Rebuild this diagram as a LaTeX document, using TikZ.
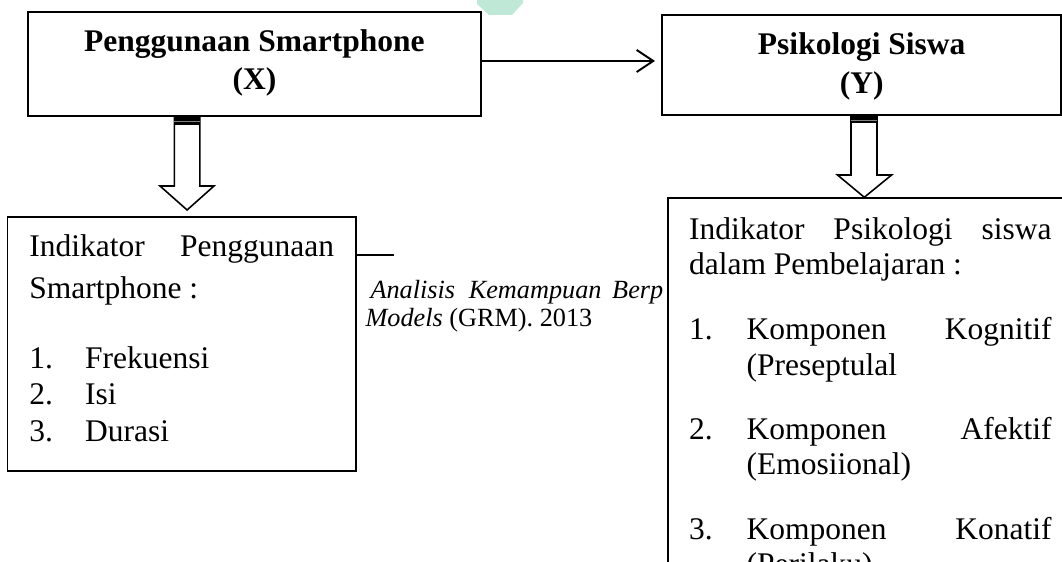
\documentclass[tikz,border=0pt]{standalone}
\usepackage{fontspec}
\setmainfont{Liberation Serif}
\usetikzlibrary{arrows.meta,fit,calc}
\definecolor{wmgreen}{HTML}{BFE8D6}
\begin{document}
\begin{tikzpicture}[x=0.38095pt,y=-0.38095pt,
  box/.style={draw=black, line width=0.75pt, fill=white, inner sep=0pt},
  ttl/.style={anchor=base, inner sep=0pt, font=\fontsize{12}{14}\selectfont\bfseries},
  txt/.style={anchor=base west, inner sep=0pt, font=\fontsize{12}{14}\selectfont},
  mid/.style={anchor=base west, inner sep=0pt, font=\fontsize{10}{12}\selectfont},
  conn/.style={line width=0.75pt, -{Straight Barb[length=6.3pt,width=8.4pt,line width=0.75pt]}, shorten >=2.3pt},
  blk/.style={draw=black, line width=0.6pt, fill=white, line join=miter},
  bar/.style={fill=black}]
\useasboundingbox (0,0) rectangle (1062,562);
\clip (0,0) rectangle (1062,562);

% watermark fragment
\fill[wmgreen] (477,0) -- (523,0) -- (523,3) -- (512,15) -- (489,15) -- (477,4) -- cycle;

% main boxes
\node[box, fit={(27.8,12.3) (481,115.7)}] (X) {};
\node[box, fit={(662,15) (1061,115)}] (Y) {};
\node[box, fit={(7.5,216.7) (355.6,471)}] (LX) {};

% titles
\node[ttl] (tx1) at (254.4,51.7) {Penggunaan Smartphone};
\node[ttl] (tx2) at (254.6,90) {(X)};
\node[ttl] (ty1) at (861.7,55) {Psikologi Siswa};
\node[ttl] (ty2) at (861.7,93.3) {(Y)};

% middle text (partly hidden by the right box)
\node[mid] (m1) at (370,298.3) {\itshape Analisis};
\node[mid] (m2) at (468.3,298.3) {\itshape Kemampuan};
\node[mid] (m3) at (611.7,298.3) {\itshape Berp};
\node[mid] (m4) at (365,326.7) {\textit{Models} (GRM). 2013};

% right indicator box (runs past the page edges)
\node[box, fit={(668,198.3) (1090,600)}] (LY) {};

% left indicator text
\node[txt] (lx1) at (28.8,256.7) {\makebox[116.1pt][s]{Indikator Penggunaan}};
\node[txt] (lx2) at (28.8,298.3) {Smartphone :};
\node[txt] (lxn1) at (28.8,368.3) {1.};
\node[txt] (lxi1) at (84.7,368.3) {Frekuensi};
\node[txt] (lxn2) at (28.8,405) {2.};
\node[txt] (lxi2) at (84.7,405) {Isi};
\node[txt] (lxn3) at (28.8,441.7) {3.};
\node[txt] (lxi3) at (84.7,441.7) {Durasi};

% right indicator text
\node[txt] (ly1) at (688.5,240) {\makebox[138.1pt][s]{Indikator Psikologi siswa}};
\node[txt] (ly2) at (688.5,275) {dalam Pembelajaran :};
\node[txt] (lyn1) at (688.5,339.3) {1.};
\node[txt] (lyi1) at (746,339.3) {\makebox[116.2pt][s]{Komponen Kognitif}};
\node[txt] (lyj1) at (746,376) {(Preseptulal};
\node[txt] (lyn2) at (688.5,439.3) {2.};
\node[txt] (lyi2) at (746,439.3) {\makebox[116.2pt][s]{Komponen Afektif}};
\node[txt] (lyj2) at (746,475) {(Emosiional)};
\node[txt] (lyn3) at (688.5,539.3) {3.};
\node[txt] (lyi3) at (746,539.3) {\makebox[116.2pt][s]{Komponen Konatif}};
\node[txt] (lyj3) at (746,575) {(Perilaku)};

% connector X -> Y
\coordinate (hy) at (0,61);
\draw[conn] (X.east |- hy) -- (Y.west |- hy);

% short line from left indicator box
\coordinate (sy) at (0,255);
\coordinate (send) at (394,255);
\draw[line width=1.1pt] (LX.east |- sy) -- (send);

% block arrow X -> indicators
\draw[blk] (174.4,118) -- (199.8,118) -- (199.8,186) -- (214,186) -- (187.1,210) -- (160,186) -- (174.4,186) -- cycle;
\fill[bar] (174.4,118) rectangle (199.8,125);
\draw[gray, line width=0.3pt] (174.4,121.6) -- (199.8,121.6);

% block arrow Y -> indicators
\draw[blk] (851,116.7) -- (877,116.7) -- (877,175) -- (891.6,175) -- (864.3,197.3) -- (837.5,175) -- (851,175) -- cycle;
\fill[bar] (851,116.7) rectangle (877,123.5);
\draw[gray, line width=0.3pt] (851,120.2) -- (877,120.2);
\end{tikzpicture}
\end{document}
